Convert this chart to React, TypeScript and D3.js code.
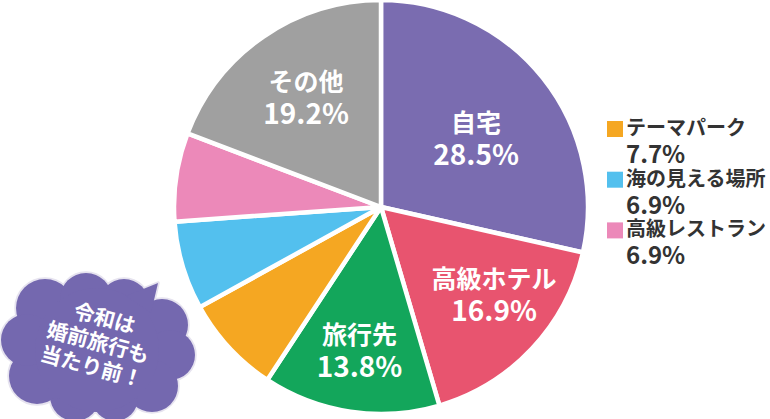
import React, { useMemo } from "react";
import * as d3 from "d3";

// ---- data ----
const categories = ["自宅", "高級ホテル", "旅行先", "テーマパーク", "海の見える場所", "高級レストラン", "その他"];
const values = [28.5, 16.9, 13.8, 7.7, 6.9, 6.9, 19.2];
const colors = ["#7a6cb0", "#e8546f", "#13a65b", "#f5a722", "#53c0ee", "#ec89b9", "#a0a0a0"];
const insideLabeled = ["自宅", "高級ホテル", "旅行先", "その他"];
const legendItems = ["テーマパーク", "海の見える場所", "高級レストラン"];
const bubbleLines = ["令和は", "婚前旅行も", "当たり前！"];

// ---- layout ----
const W = 770;
const H = 419;
const CX = 381;
const CY = 207;
const R = 207;
const FONT = "'Noto Sans CJK JP', 'Noto Sans', sans-serif";
// label placement: [radius, angle shift in degrees]
const LABEL_LAYOUT: Record<string, [number, number]> = {
  "自宅": [117, 3],
  "高級ホテル": [143, -5.4],
  "旅行先": [146, 0],
  "その他": [132, 0],
};

const cloudCircles: [number, number, number][] = [
  [45, 308, 29],
  [86, 299, 26],
  [124, 304, 25],
  [162, 325, 26],
  [170, 355, 25],
  [152, 386, 26],
  [115, 398, 23],
  [75, 396, 25],
  [37, 376, 28],
  [27, 340, 26],
  [97, 350, 62],
];
const tailPath = "M126,296 L158,283 L151,313 Z";

export default function App() {
  const data = useMemo(
    () => categories.map((c, i) => ({ name: c, value: values[i], color: colors[i] })),
    []
  );
  const pie = d3
    .pie<{ name: string; value: number; color: string }>()
    .sort(null)
    .value((d) => d.value)
    .startAngle(0)
    .endAngle(2 * Math.PI);
  const arcs = pie(data);
  const arc = d3
    .arc<d3.PieArcDatum<{ name: string; value: number; color: string }>>()
    .innerRadius(0)
    .outerRadius(R);

  const fmt = (v: number) => `${v.toFixed(1)}%`;

  return (
    <div style={{ position: "absolute", left: 0, top: 0, width: W, height: H, background: "#fff" }}>
      <svg width={W} height={H} viewBox={`0 0 ${W} ${H}`} style={{ display: "block" }}>
        <g transform={`translate(${CX},${CY})`}>
          {arcs.map((a) => (
            <path key={a.data.name} d={arc(a) || ""} fill={a.data.color} stroke="#fff" strokeWidth={4.5} strokeLinejoin="round" />
          ))}
          {arcs
            .filter((a) => insideLabeled.includes(a.data.name))
            .map((a) => {
              const [r, shift] = LABEL_LAYOUT[a.data.name];
              const ang = (a.startAngle + a.endAngle) / 2 + (shift * Math.PI) / 180;
              const x = r * Math.sin(ang);
              const y = -r * Math.cos(ang);
              return (
                <text key={"l" + a.data.name} fill="#fff" fontFamily={FONT} fontWeight={700} textAnchor="middle" x={x} y={y - 7}>
                  <tspan x={x} fontSize={25}>
                    {a.data.name}
                  </tspan>
                  <tspan x={x} dy={33} fontSize={28}>
                    {fmt(a.data.value)}
                  </tspan>
                </text>
              );
            })}
        </g>

        {/* legend */}
        {legendItems.map((name, i) => {
          const idx = categories.indexOf(name);
          const y0 = 135 + i * 50.7;
          return (
            <g key={"lg" + name} fontFamily={FONT} fontWeight={700} fill="#333">
              <rect x={607} y={y0 - 14} width={16} height={16} fill={colors[idx]} />
              <text x={626} y={y0}>
                <tspan x={626} fontSize={20}>
                  {name}
                </tspan>
                <tspan x={626} dy={28} fontSize={24}>
                  {fmt(values[idx])}
                </tspan>
              </text>
            </g>
          );
        })}

        {/* speech cloud */}
        <g>
          <g fill="#e6e3ef" stroke="#e6e3ef" strokeWidth={3.5}>
            {cloudCircles.map(([x, y, r], i) => (
              <circle key={"co" + i} cx={x} cy={y} r={r} />
            ))}
            <path d={tailPath} strokeLinejoin="round" />
          </g>
          <g fill="#7468af">
            {cloudCircles.map(([x, y, r], i) => (
              <circle key={"cf" + i} cx={x} cy={y} r={r} />
            ))}
            <path d={tailPath} />
          </g>
          <text
            transform="translate(98,343) rotate(15)"
            fill="#fff"
            fontFamily={FONT}
            fontWeight={700}
            textAnchor="middle"
            fontSize={21}
            x={0}
            y={-18}
          >
            {bubbleLines.map((t, i) => (
              <tspan key={"b" + i} x={0} dy={i === 0 ? 0 : 25}>
                {t}
              </tspan>
            ))}
          </text>
        </g>
      </svg>
    </div>
  );
}
